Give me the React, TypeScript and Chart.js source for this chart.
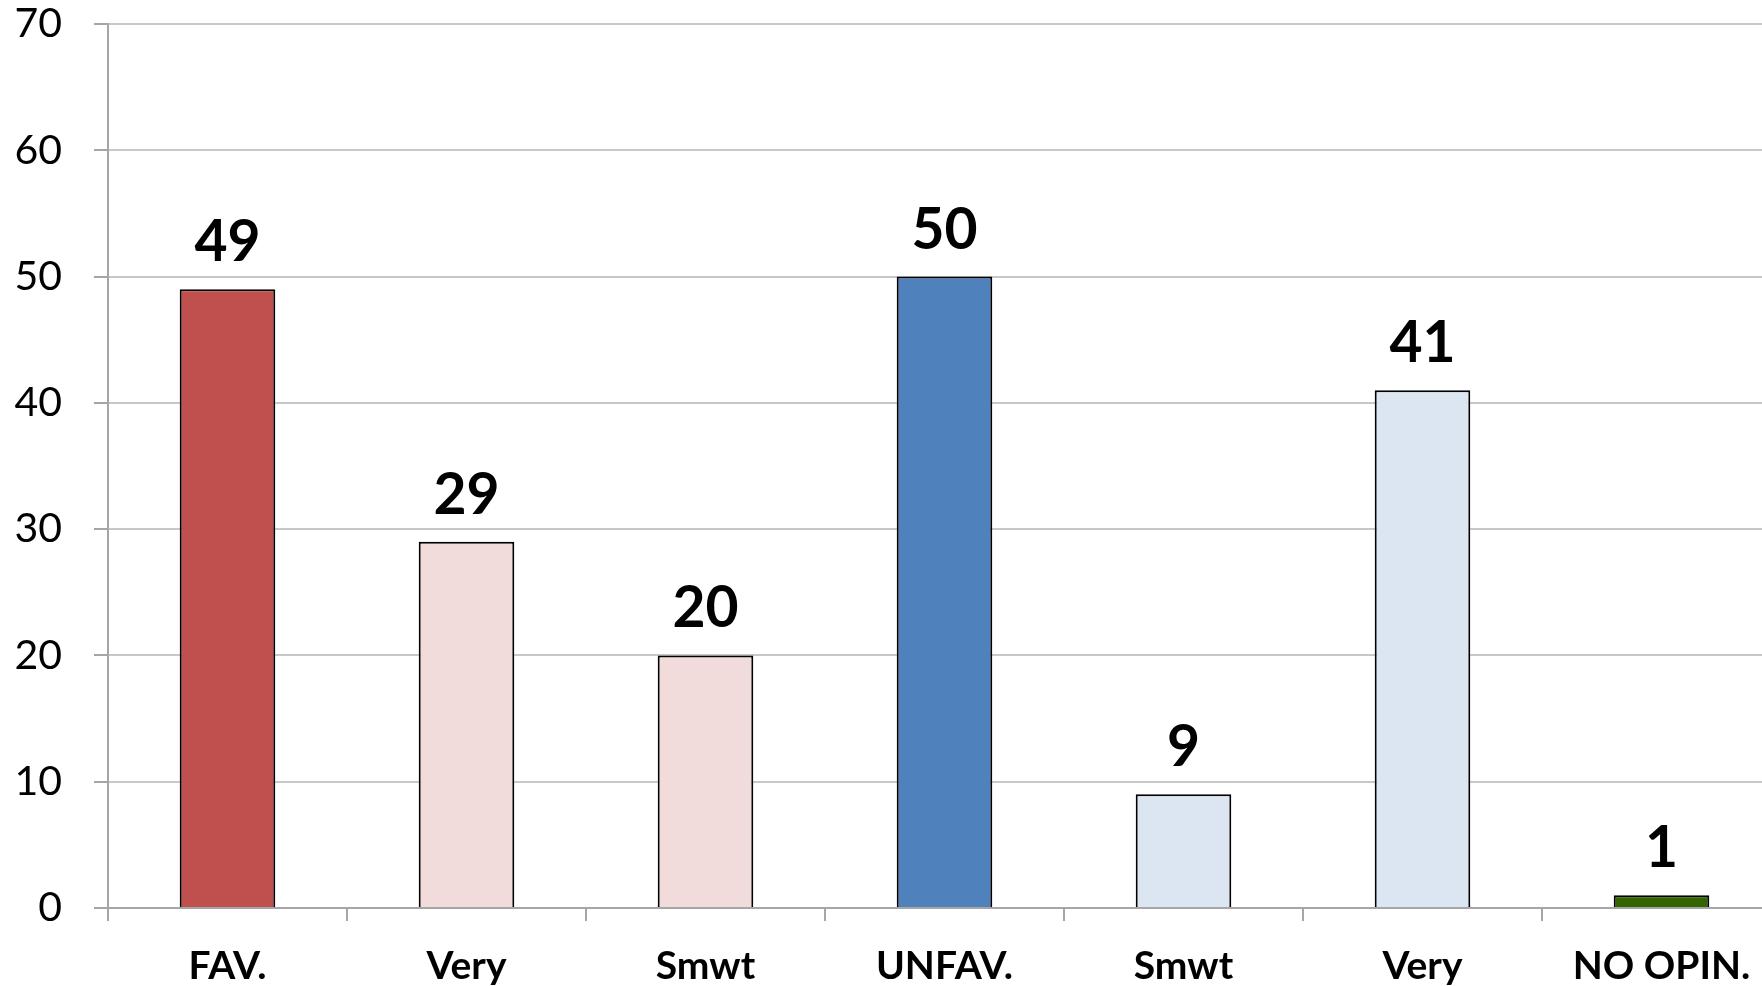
import React, { useEffect, useRef } from "react";
import { Chart, registerables } from "chart.js";

Chart.register(...registerables);

const categories = ["FAV.", "Very", "Smwt", "UNFAV.", "Smwt", "Very", "NO OPIN."];
const values = [49, 29, 20, 50, 9, 41, 1];
const barColors = ["#C0504D", "#F2DCDB", "#F2DCDB", "#4F81BD", "#DCE6F2", "#DCE6F2", "#336600"];
const yTicks = [0, 10, 20, 30, 40, 50, 60, 70];

const FONT = "Lato, Calibri, Carlito, 'Open Sans', sans-serif";

const valueLabels = {
  id: "valueLabels",
  afterDatasetsDraw(chart: any) {
    const ctx = chart.ctx;
    const meta = chart.getDatasetMeta(0);
    ctx.save();
    ctx.font = `bold 57px ${FONT}`;
    ctx.fillStyle = "#000000";
    ctx.textAlign = "center";
    ctx.textBaseline = "alphabetic";
    meta.data.forEach((bar: any, i: number) => {
      ctx.fillText(String(values[i]), bar.x, bar.y - 28);
    });
    ctx.restore();
  },
};

export default function App() {
  const ref = useRef<HTMLCanvasElement>(null);
  useEffect(() => {
    if (!ref.current) return;
    const chart = new Chart(ref.current, {
      type: "bar",
      data: {
        labels: categories,
        datasets: [
          {
            data: values,
            backgroundColor: barColors,
            borderColor: "#000000",
            borderWidth: 2,
            barPercentage: 0.8,
            categoryPercentage: 0.5,
          },
        ],
      },
      options: {
        responsive: false,
        animation: false,
        devicePixelRatio: 1,
        layout: { padding: { top: 24, right: 19, bottom: 0, left: 0 } },
        plugins: { legend: { display: false }, tooltip: { enabled: false } },
        scales: {
          x: {
            offset: true,
            grid: {
              offset: true,
              drawOnChartArea: false,
              drawTicks: true,
              tickLength: 13,
              tickColor: "#A6A6A6",
              lineWidth: 2,
            },
            border: { color: "#A6A6A6", width: 2 },
            ticks: {
              color: "#000000",
              font: { family: FONT, size: 39, weight: "bold" },
              padding: 22,
              maxRotation: 0,
              autoSkip: false,
            },
            afterFit(scale: any) {
              scale.height = 78;
              scale.paddingLeft = 0;
              scale.paddingRight = 0;
            },
          },
          y: {
            min: 0,
            max: 70,
            afterBuildTicks(scale: any) {
              scale.ticks = yTicks.map((v) => ({ value: v }));
            },
            grid: {
              color: "#C8C8C8",
              lineWidth: 2,
              drawTicks: true,
              tickLength: 14,
              tickColor: "#A6A6A6",
            },
            border: { color: "#A6A6A6", width: 2 },
            ticks: {
              color: "#000000",
              font: { family: FONT, size: 41 },
              padding: 32,
            },
            afterFit(scale: any) {
              scale.width = 108;
              scale.paddingTop = 0;
              scale.paddingBottom = 0;
            },
          },
        },
      },
      plugins: [valueLabels],
    });
    return () => chart.destroy();
  }, []);

  return (
    <div
      style={{
        position: "fixed",
        left: 0,
        top: 0,
        width: 1762,
        height: 986,
        overflow: "hidden",
        background: "#ffffff",
      }}
    >
      <canvas ref={ref} width={1800} height={986} style={{ display: "block", width: 1800, height: 986 }} />
    </div>
  );
}
